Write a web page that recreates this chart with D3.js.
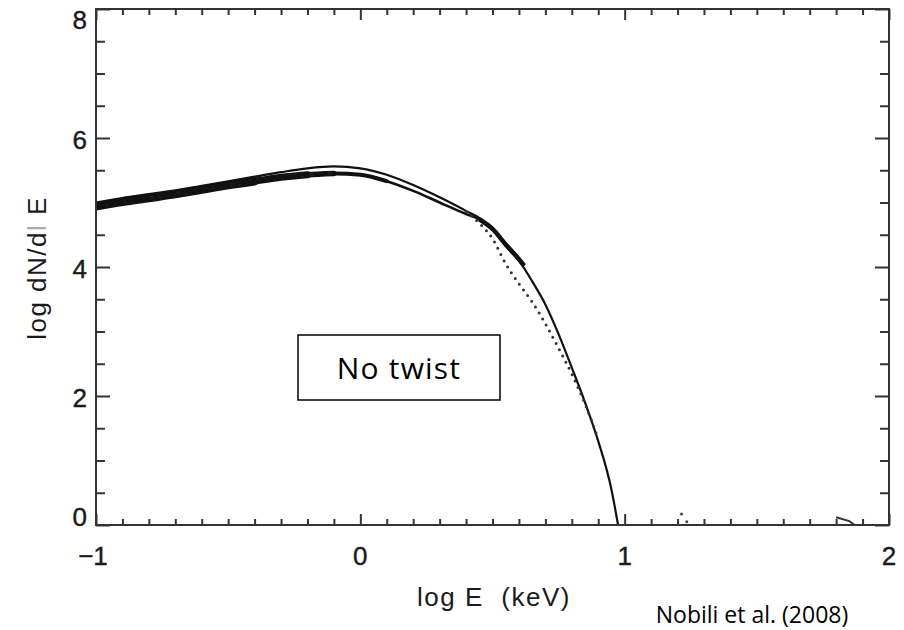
<!DOCTYPE html>
<html><head><meta charset="utf-8">
<script src="https://cdn.jsdelivr.net/npm/d3@7"></script>
<style>body{margin:0;background:#fff}</style>
</head><body><svg id="c" width="904" height="630"></svg>
<script>
// ---- data ----
const xMajor = [-1, 0, 1, 2];
const yMajor = [0, 2, 4, 6, 8];
const xTickLabels = ["\u22121", "0", "1", "2"];
const yTickLabels = ["0", "2", "4", "6", "8"];
// upper solid model curve
const modelX = [-1.0,-0.9,-0.8,-0.7,-0.6,-0.5,-0.4,-0.3,-0.2,-0.1,0.0,0.1,0.2,0.3,0.4,0.45,0.5,0.55,0.6,0.65,0.7,0.75,0.8,0.85,0.9,0.95,0.975];
const modelY = [5.0,5.07,5.13,5.19,5.26,5.33,5.40,5.47,5.53,5.56,5.53,5.43,5.27,5.08,4.87,4.76,4.58,4.33,4.10,3.78,3.42,2.96,2.44,1.90,1.30,0.55,0.0];
// simulated data band (lower)
const dataX = [-1.0,-0.9,-0.8,-0.7,-0.6,-0.5,-0.4,-0.3,-0.2,-0.1,0.0,0.1,0.2,0.3,0.4,0.45,0.5,0.55,0.6,0.62];
const dataY = [4.94,5.01,5.07,5.13,5.20,5.27,5.33,5.39,5.43,5.45,5.43,5.33,5.18,5.00,4.82,4.74,4.59,4.35,4.12,4.02];
// dotted model curve
const dotX = [0.40,0.45,0.5,0.55,0.6,0.65,0.7,0.75,0.8,0.85,0.9];
const dotY = [4.86,4.68,4.44,4.05,3.74,3.46,3.12,2.74,2.34,1.88,1.33];
// stray points near the axis
const strayX = [1.215, 1.235];
const strayY = [0.17, 0.05];
const tailX = [1.80, 1.85, 1.87];
const tailY = [0.12, 0.06, 0.0];

// ---- layout ----
const svg = d3.select("#c");
const L = 96, R = 889, T = 9, B = 525;
const x = d3.scaleLinear().domain([-1, 2]).range([L, R]);
const y = d3.scaleLinear().domain([0, 8]).range([B, T]);
const axisColor = "#333";

svg.append("defs").append("clipPath").attr("id", "plotclip")
  .append("rect").attr("x", L).attr("y", T).attr("width", R - L).attr("height", B - T);

const minorX = d3.range(-1, 2.0001, 0.1).map(v => +v.toFixed(2)).filter(v => !xMajor.some(m => Math.abs(m - v) < 1e-6));
const minorY = d3.range(0, 8.0001, 0.5).filter(v => !yMajor.includes(v));

function styleAxis(g){
  g.select(".domain").remove();
  g.selectAll(".tick line").attr("stroke", axisColor).attr("stroke-width", 2);
  g.selectAll("text").remove();
}
svg.append("g").attr("transform", `translate(0,${B})`).call(d3.axisTop(x).tickValues(xMajor).tickSize(11)).call(styleAxis);
svg.append("g").attr("transform", `translate(0,${B})`).call(d3.axisTop(x).tickValues(minorX).tickSize(6)).call(styleAxis);
svg.append("g").attr("transform", `translate(0,${T})`).call(d3.axisBottom(x).tickValues(xMajor).tickSize(11)).call(styleAxis);
svg.append("g").attr("transform", `translate(0,${T})`).call(d3.axisBottom(x).tickValues(minorX).tickSize(6)).call(styleAxis);
svg.append("g").attr("transform", `translate(${L},0)`).call(d3.axisRight(y).tickValues(yMajor).tickSize(14)).call(styleAxis);
svg.append("g").attr("transform", `translate(${L},0)`).call(d3.axisRight(y).tickValues(minorY).tickSize(9)).call(styleAxis);
svg.append("g").attr("transform", `translate(${R},0)`).call(d3.axisLeft(y).tickValues(yMajor).tickSize(14)).call(styleAxis);
svg.append("g").attr("transform", `translate(${R},0)`).call(d3.axisLeft(y).tickValues(minorY).tickSize(9)).call(styleAxis);

// tick labels
const tickFont = "'Liberation Sans', Arial, sans-serif";
svg.append("g").selectAll("text").data(xMajor).join("text")
  .attr("x", d => x(d) - (d === -1 ? 3 : 0)).attr("y", 565)
  .attr("text-anchor", "middle").attr("font-family", tickFont).attr("font-size", 26).attr("fill", "#1a1a1a")
  .attr("stroke", "#1a1a1a").attr("stroke-width", 0.4)
  .text((d, i) => xTickLabels[i]);
const yOff = v => v === 0 ? 1 : (v === 8 ? 20 : 11);
svg.append("g").selectAll("text").data(yMajor).join("text")
  .attr("x", 87).attr("y", d => y(d) + yOff(d))
  .attr("text-anchor", "end").attr("font-family", tickFont).attr("font-size", 26).attr("fill", "#1a1a1a")
  .attr("stroke", "#1a1a1a").attr("stroke-width", 0.4)
  .text((d, i) => yTickLabels[i]);

// axis titles
svg.append("text").attr("x", 494).attr("y", 606).attr("text-anchor", "middle")
  .attr("font-family", tickFont).attr("font-size", 26).attr("letter-spacing", 1.5).attr("fill", "#1a1a1a")
  .attr("xml:space", "preserve").text("log E  (keV)");
const yt = svg.append("text").attr("transform", "translate(46,268) rotate(-90)").attr("text-anchor", "middle")
  .attr("font-family", tickFont).attr("font-size", 26).attr("letter-spacing", 1.5).attr("fill", "#1a1a1a")
  .attr("xml:space", "preserve");
yt.append("tspan").text("log dN/d");
yt.append("tspan").attr("fill", "#aaa").text("l");
yt.append("tspan").text(" E");

// curves (clipped to the plot frame)
const plot = svg.append("g").attr("clip-path", "url(#plotclip)");
const line = d3.line().x(d => x(d[0])).y(d => y(d[1])).curve(d3.curveMonotoneX);
const zip = (a, b) => a.map((v, i) => [v, b[i]]);
const band = zip(dataX, dataY);
const seg = (a, b) => band.filter(d => d[0] >= a - 1e-9 && d[0] <= b + 1e-9);
const widths = [[-1, -0.4, 8.5], [-0.5, -0.2, 7], [-0.3, -0.1, 5.5], [-0.2, 0.1, 4]];
widths.forEach(([a, b, w]) => {
  plot.append("path").datum(seg(a, b)).attr("d", line).attr("fill", "none").attr("stroke", "#111")
    .attr("stroke-width", w).attr("stroke-linecap", "round");
});
plot.append("path").datum(seg(-1, -0.1)).attr("d", line).attr("fill", "none").attr("stroke", "#fff").attr("stroke-width", 1.8)
  .attr("stroke-dasharray", "4,5");
plot.append("path").datum(band).attr("d", line).attr("fill", "none").attr("stroke", "#111").attr("stroke-width", 2.6);
plot.append("path").datum(seg(0.45, 0.62)).attr("d", line).attr("fill", "none").attr("stroke", "#111").attr("stroke-width", 4.5);
plot.append("path").datum(zip(modelX, modelY)).attr("d", line).attr("fill", "none").attr("stroke", "#111").attr("stroke-width", 2.2);
plot.append("path").datum(zip(dotX, dotY)).attr("d", line).attr("fill", "none").attr("stroke", "#333").attr("stroke-width", 3)
  .attr("stroke-linecap", "round").attr("stroke-dasharray", "0,7");

plot.append("g").selectAll("circle").data(zip(strayX, strayY)).join("circle")
  .attr("cx", d => x(d[0])).attr("cy", d => y(d[1])).attr("r", 1.5).attr("fill", "#444");
plot.append("path").datum(zip(tailX, tailY)).attr("d", d3.line().x(d => x(d[0])).y(d => y(d[1])))
  .attr("fill", "none").attr("stroke", "#333").attr("stroke-width", 2);

// frame on top
svg.append("rect").attr("x", L).attr("y", T).attr("width", R - L).attr("height", B - T)
  .attr("fill", "none").attr("stroke", axisColor).attr("stroke-width", 2);

// annotation box
svg.append("rect").attr("x", 298).attr("y", 335).attr("width", 202).attr("height", 65)
  .attr("fill", "#fff").attr("stroke", "#000").attr("stroke-width", 1.5);
svg.append("text").attr("x", 399).attr("y", 379).attr("text-anchor", "middle")
  .attr("font-family", "'Open Sans', sans-serif").attr("font-size", 30).attr("letter-spacing", 1.2).attr("fill", "#000")
  .text("No twist");

// credit
svg.append("text").attr("x", 752).attr("y", 623).attr("text-anchor", "middle")
  .attr("font-family", "'Open Sans', sans-serif").attr("font-size", 23).attr("fill", "#000")
  .text("Nobili et al. (2008)");
</script></body></html>
